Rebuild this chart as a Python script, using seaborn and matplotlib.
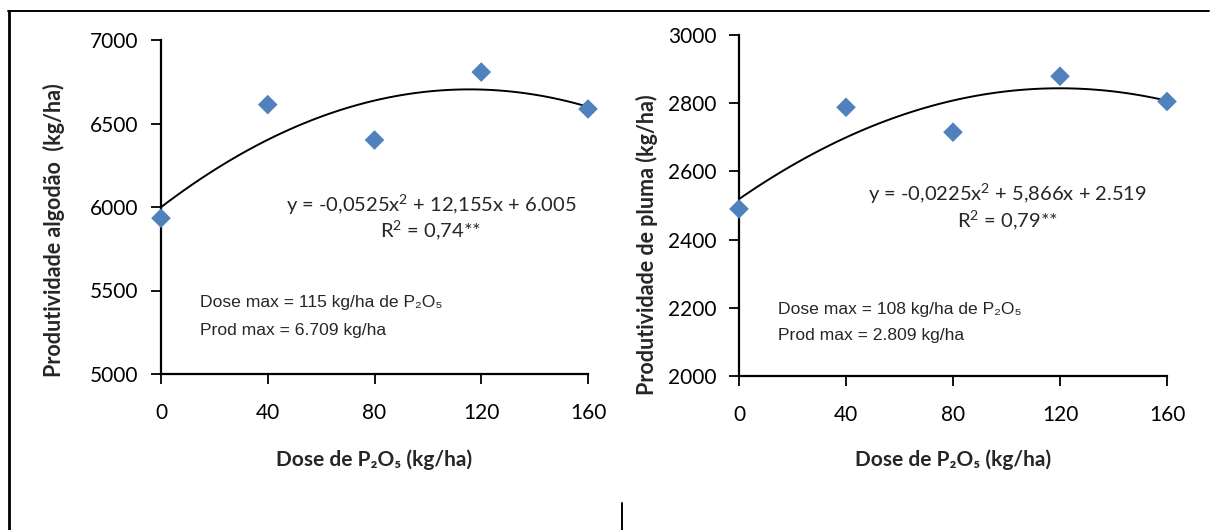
import matplotlib
matplotlib.use("Agg")
import matplotlib.pyplot as plt
from matplotlib.lines import Line2D
import seaborn as sns
import pandas as pd

# ---- data ----
doses = [0, 40, 80, 120, 160]
algodao = [5933, 6613, 6401, 6808, 6587]
pluma = [2490, 2788, 2715, 2879, 2805]
x_ticks = [0, 40, 80, 120, 160]
y_ticks_left = [5000, 5500, 6000, 6500, 7000]
y_ticks_right = [2000, 2200, 2400, 2600, 2800, 3000]

eq_left = r"y = -0,0525x$^\mathregular{2}$ + 12,155x + 6.005"
r2_left = r"R$^\mathregular{2}$ = 0,74**"
eq_right = r"y = -0,0225x$^\mathregular{2}$ + 5,866x + 2.519"
r2_right = r"R$^\mathregular{2}$ = 0,79**"
max_left = ["Dose max = 115 kg/ha de P₂O₅", "Prod max = 6.709 kg/ha"]
max_right = ["Dose max = 108 kg/ha de P₂O₅", "Prod max = 2.809 kg/ha"]
xlabel = "Dose de P₂O₅ (kg/ha)"
ylabel_left = "Produtividade algodão  (kg/ha)"
ylabel_right = "Produtividade de pluma (kg/ha)"

BLUE = "#4F81BD"

sns.set_style("white")
plt.rcParams['font.family'] = ['Lato', 'DejaVu Sans']
plt.rcParams['mathtext.fontset'] = 'custom'
plt.rcParams['mathtext.rm'] = 'Lato'
plt.rcParams['mathtext.it'] = 'Lato:italic'
plt.rcParams['mathtext.bf'] = 'Lato:bold'
NARROW = ['Liberation Sans Narrow', 'Liberation Sans', 'DejaVu Sans']

fig = plt.figure(figsize=(12.11, 5.30), dpi=100)
W, H = 1211, 530

def ax_at(x0, x1, y0, y1):
    return fig.add_axes([x0 / W, 1 - y1 / H, (x1 - x0) / W, (y1 - y0) / H])

axL = ax_at(161, 588, 40, 374)
axR = ax_at(739, 1167, 35, 376)

panels = [
    (axL, algodao, y_ticks_left, eq_left, r2_left, max_left, ylabel_left,
     (0.632, 0.506), (0.632, 0.431), (0.091, 0.213), (0.091, 0.129), (-0.225, 0.43), -0.225),
    (axR, pluma, y_ticks_right, eq_right, r2_right, max_right, ylabel_right,
     (0.627, 0.534), (0.627, 0.457), (0.091, 0.196), (0.091, 0.118), (-0.189, 0.384), -0.214),
]

for (ax, vals, yt, eq, r2, mx, ylab, eqpos, r2pos, m1pos, m2pos, ylpos, xly) in panels:
    df = pd.DataFrame({"dose": doses, "prod": vals})
    sns.regplot(data=df, x="dose", y="prod", order=2, ci=None, scatter=False,
                ax=ax, line_kws=dict(color="black", lw=1.4))
    sns.scatterplot(data=df, x="dose", y="prod", marker="D", s=100, color=BLUE,
                    edgecolor="none", ax=ax, zorder=5, clip_on=False)
    ax.set_xlim(0, 160)
    ax.set_ylim(yt[0], yt[-1])
    ax.set_xticks(x_ticks)
    ax.set_yticks(yt)
    for s in ["top", "right"]:
        ax.spines[s].set_visible(False)
    for s in ["left", "bottom"]:
        ax.spines[s].set_linewidth(1.6)
        ax.spines[s].set_color("black")
    ax.tick_params(axis="x", bottom=True, direction="out", length=7, width=1.3, pad=14,
                   labelsize=15, colors="black")
    ax.tick_params(axis="y", left=True, direction="out", length=7, width=1.3, pad=9,
                   labelsize=15, colors="black")
    ax.set_xlabel(xlabel, fontsize=15, fontweight="bold")
    ax.set_ylabel(ylab, fontsize=15.5, fontweight="bold")
    ax.xaxis.set_label_coords(0.5, xly)
    ax.yaxis.set_label_coords(*ylpos)
    ax.text(*eqpos, eq, transform=ax.transAxes, ha="center", va="center", fontsize=14.5)
    ax.text(*r2pos, r2, transform=ax.transAxes, ha="center", va="center", fontsize=14.5)
    ax.text(*m1pos, mx[0], transform=ax.transAxes, ha="left", va="center",
            fontsize=12.6, family=NARROW)
    ax.text(*m2pos, mx[1], transform=ax.transAxes, ha="left", va="center",
            fontsize=12.6, family=NARROW)

# frame decorations
def fline(xs, ys, lw):
    fig.add_artist(Line2D([x / W for x in xs], [1 - y / H for y in ys],
                          color="black", lw=lw, transform=fig.transFigure))

fline([8.5, 8.5], [11, 530], 2.0)
fline([8, 1209], [11, 11], 1.4)
fline([622, 622], [503, 530], 1.4)

fig.savefig("out.png", dpi=100, facecolor="white")
